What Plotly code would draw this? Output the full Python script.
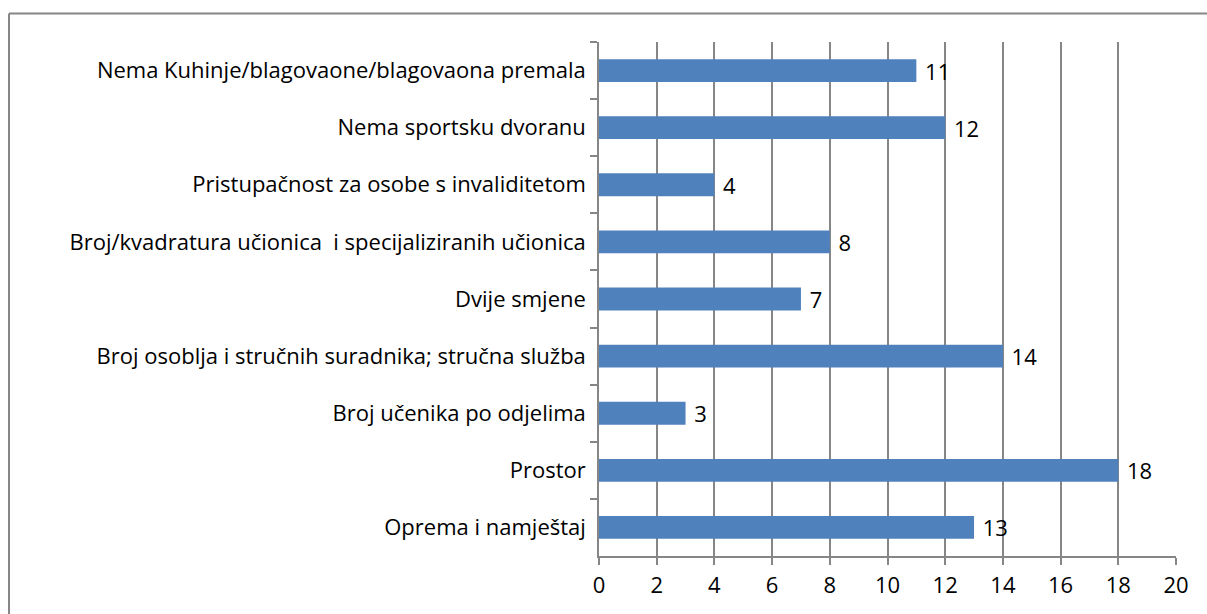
import plotly.graph_objects as go

categories = [
    "Nema Kuhinje/blagovaone/blagovaona premala",
    "Nema sportsku dvoranu",
    "Pristupačnost za osobe s invaliditetom",
    "Broj/kvadratura učionica  i specijaliziranih učionica",
    "Dvije smjene",
    "Broj osoblja i stručnih suradnika; stručna služba",
    "Broj učenika po odjelima",
    "Prostor",
    "Oprema i namještaj",
]
values = [11, 12, 4, 8, 7, 14, 3, 18, 13]
x_ticks = list(range(0, 21, 2))

FONT = "Open Sans"
SIZE = 22
GRAY = "#868686"

fig = go.Figure(
    go.Bar(
        x=values,
        y=categories,
        orientation="h",
        marker=dict(color="#4F81BD", line=dict(width=0)),
        text=[f" {v}" for v in values],
        textposition="outside",
        constraintext="none",
        textfont=dict(family=FONT, size=SIZE, color="#000000"),
        cliponaxis=False,
        width=0.4,
    )
)

fig.update_layout(
    width=1207,
    height=614,
    margin=dict(l=599, r=31, t=42, b=58),
    paper_bgcolor="white",
    plot_bgcolor="white",
    showlegend=False,
    font=dict(family=FONT, size=SIZE, color="#000000"),
    xaxis=dict(
        range=[0, 20],
        tickvals=x_ticks,
        showgrid=True,
        gridcolor=GRAY,
        gridwidth=1.5,
        zeroline=False,
        showline=True,
        linecolor=GRAY,
        linewidth=1.5,
        ticks="outside",
        ticklen=7,
        tickcolor=GRAY,
        tickwidth=1.5,
        tickfont=dict(family=FONT, size=SIZE),
        ticklabelstandoff=2,
    ),
    yaxis=dict(
        autorange="reversed",
        showgrid=False,
        showline=True,
        linecolor=GRAY,
        linewidth=1.5,
        ticks="outside",
        tickson="boundaries",
        ticklen=7,
        tickcolor=GRAY,
        tickwidth=1.5,
        tickfont=dict(family=FONT, size=SIZE),
        ticklabelstandoff=7,
    ),
    shapes=[
        dict(type="line", xref="paper", yref="paper", x0=-1.0225, x1=1.2, y0=1.0554, y1=1.0554,
             line=dict(color=GRAY, width=2)),
        dict(type="line", xref="paper", yref="paper", x0=-1.0225, x1=-1.0225, y0=-0.3, y1=1.0554,
             line=dict(color=GRAY, width=2)),
    ],
)

fig.write_html("out.html")
